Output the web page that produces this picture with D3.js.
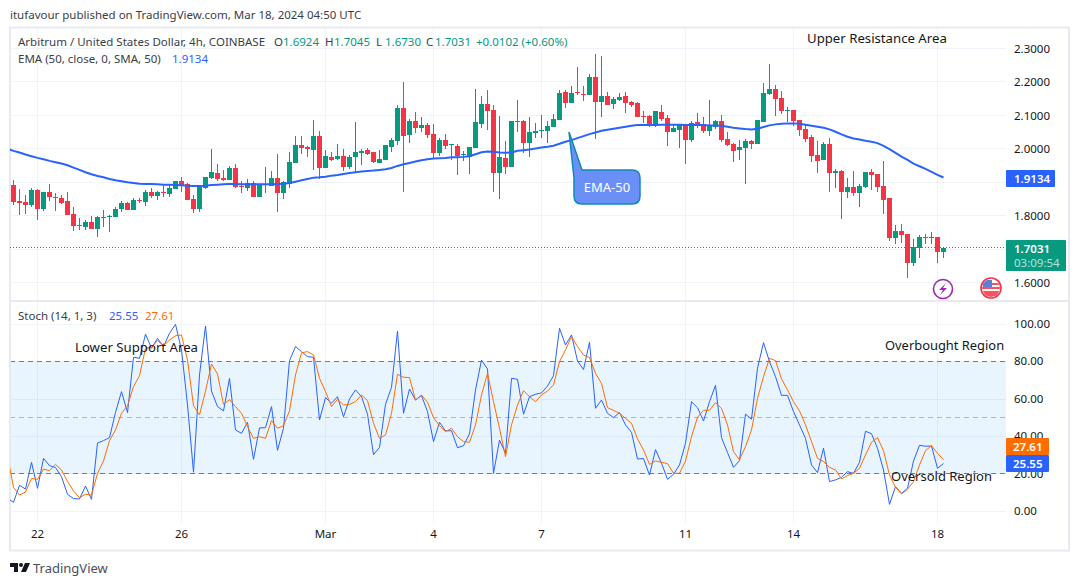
<!DOCTYPE html>
<html>
<head>
<meta charset="utf-8">
<script src="https://cdn.jsdelivr.net/npm/d3@7"></script>
<style>
  html, body { margin: 0; padding: 0; background: #fff; }
  text { font-family: "Noto Sans", sans-serif; }
</style>
</head>
<body>
<div id="chart"></div>
<script>
// OHLC, one entry per 4h bar
const opens = [
  1.891,1.843,1.840,1.831,1.876,1.819,1.870,1.855,1.852,1.843,
  1.804,1.771,1.765,1.780,1.759,1.793,1.796,1.795,1.819,1.837,
  1.816,1.847,1.840,1.870,1.858,1.870,1.864,1.879,1.903,1.894,
  1.849,1.819,1.882,1.912,1.927,1.912,1.906,1.942,1.888,1.882,
  1.897,1.855,1.891,1.888,1.912,1.867,1.894,1.957,2.011,2.004,
  1.996,2.038,1.942,1.975,1.969,1.978,1.945,1.975,1.987,1.996,
  1.990,1.957,1.966,2.005,2.023,2.121,2.040,2.082,2.061,2.070,
  2.043,1.987,2.026,2.009,2.008,1.981,1.975,2.002,2.073,2.133,
  2.115,1.927,1.972,1.945,2.082,2.082,2.017,2.046,2.053,2.052,
  2.064,2.085,2.169,2.136,2.169,2.163,2.160,2.214,2.139,2.157,
  2.133,2.145,2.157,2.139,2.136,2.096,2.097,2.070,2.109,2.091,
  2.049,2.055,2.070,2.026,2.079,2.073,2.052,2.064,2.082,2.029,
  2.014,1.996,2.002,2.023,2.014,2.079,2.163,2.178,2.151,2.113,
  2.115,2.085,2.058,2.034,1.981,1.966,2.014,1.927,1.933,1.870,
  1.885,1.867,1.885,1.930,1.924,1.888,1.852,1.733,1.754,1.745,
  1.658,1.703,1.736,1.734,1.736,1.6924
];
const highs = [
  1.906,1.879,1.861,1.882,1.879,1.871,1.894,1.867,1.861,1.870,
  1.825,1.792,1.786,1.798,1.798,1.816,1.801,1.825,1.843,1.840,
  1.852,1.852,1.876,1.882,1.873,1.891,1.891,1.903,1.915,1.897,
  1.861,1.888,1.915,1.998,1.954,1.936,1.948,1.953,1.903,1.909,
  1.903,1.894,1.945,1.933,1.984,1.903,1.990,2.038,2.038,2.008,
  2.085,2.053,1.996,1.990,2.014,1.999,1.981,2.079,1.999,2.002,
  1.990,1.996,2.011,2.031,2.130,2.199,2.088,2.109,2.094,2.076,
  2.073,2.031,2.043,2.014,2.014,1.993,2.005,2.178,2.157,2.175,
  2.130,2.097,2.023,2.082,2.145,2.085,2.094,2.076,2.100,2.082,
  2.103,2.175,2.175,2.187,2.243,2.187,2.222,2.282,2.276,2.169,
  2.154,2.166,2.169,2.142,2.139,2.112,2.100,2.112,2.130,2.100,
  2.070,2.073,2.073,2.082,2.106,2.094,2.145,2.085,2.100,2.049,
  2.017,2.026,2.029,2.026,2.085,2.196,2.252,2.190,2.172,2.124,
  2.115,2.085,2.073,2.040,2.023,2.020,2.031,1.939,1.936,1.912,
  1.933,1.894,1.930,1.939,1.924,1.963,1.852,1.772,1.775,1.745,
  1.730,1.742,1.745,1.751,1.736,1.7045
];
const lows = [
  1.831,1.801,1.804,1.824,1.786,1.813,1.843,1.813,1.834,1.801,
  1.754,1.757,1.757,1.759,1.736,1.765,1.750,1.795,1.810,1.816,
  1.816,1.837,1.828,1.852,1.846,1.855,1.855,1.879,1.870,1.846,
  1.807,1.810,1.879,1.909,1.903,1.903,1.906,1.882,1.867,1.873,
  1.855,1.855,1.866,1.888,1.810,1.849,1.882,1.957,1.984,1.975,
  1.936,1.909,1.942,1.963,1.966,1.933,1.939,1.930,1.951,1.981,
  1.957,1.957,1.966,1.990,2.011,1.870,2.017,2.046,2.049,2.031,
  1.969,1.978,1.999,1.966,1.921,1.963,1.924,2.002,2.061,2.055,
  1.870,1.849,1.924,1.945,2.049,1.987,1.975,2.031,2.031,2.017,
  2.064,2.085,2.121,2.136,2.160,2.142,2.160,2.028,2.094,2.130,
  2.118,2.142,2.106,2.124,2.094,2.076,2.064,2.064,2.082,2.008,
  2.049,2.002,1.954,2.020,2.061,2.046,2.037,2.058,2.020,2.008,
  1.960,1.966,1.894,1.999,2.014,2.079,2.160,2.097,2.103,2.079,
  2.067,2.037,2.020,1.960,1.927,1.966,1.870,1.882,1.790,1.852,
  1.858,1.825,1.882,1.876,1.870,1.805,1.724,1.715,1.718,1.613,
  1.649,1.673,1.715,1.715,1.658,1.6730
];
const closes = [
  1.841,1.837,1.832,1.876,1.819,1.870,1.855,1.853,1.837,1.801,
  1.768,1.768,1.780,1.759,1.795,1.795,1.798,1.819,1.837,1.816,
  1.846,1.845,1.870,1.858,1.870,1.868,1.882,1.903,1.891,1.846,
  1.819,1.885,1.915,1.930,1.908,1.906,1.942,1.885,1.885,1.897,
  1.855,1.894,1.893,1.912,1.867,1.900,1.960,2.011,2.002,1.998,
  2.038,1.942,1.978,1.966,1.978,1.945,1.975,1.990,1.993,1.984,
  1.960,1.969,2.011,2.026,2.121,2.037,2.082,2.061,2.070,2.040,
  1.987,2.026,2.008,2.012,1.978,1.984,2.005,2.079,2.133,2.112,
  1.927,1.975,1.945,2.082,2.080,2.017,2.049,2.052,2.055,2.067,
  2.088,2.166,2.136,2.166,2.166,2.161,2.214,2.139,2.157,2.130,
  2.148,2.154,2.136,2.130,2.094,2.093,2.073,2.112,2.088,2.049,
  2.061,2.070,2.026,2.076,2.067,2.052,2.067,2.082,2.026,2.011,
  1.993,2.005,2.023,2.014,2.085,2.166,2.178,2.148,2.112,2.115,
  2.082,2.055,2.029,1.978,1.963,2.014,1.927,1.933,1.870,1.885,
  1.867,1.888,1.930,1.921,1.885,1.846,1.733,1.754,1.742,1.658,
  1.706,1.736,1.734,1.736,1.691,1.7031
];
// EMA and stochastic start one bar before the first candle (it is clipped by the pane)
const emaValues = [
  1.999,1.993,1.988,1.982,1.977,1.972,1.968,1.963,1.959,1.955,1.950,
  1.943,1.936,1.929,1.923,1.918,1.914,1.909,1.905,1.902,1.899,
  1.897,1.895,1.894,1.894,1.893,1.892,1.892,1.891,1.890,1.889,
  1.888,1.888,1.889,1.891,1.892,1.893,1.894,1.894,1.893,1.893,
  1.893,1.893,1.893,1.893,1.894,1.895,1.897,1.901,1.905,1.909,
  1.913,1.914,1.916,1.919,1.921,1.924,1.927,1.929,1.931,1.933,
  1.934,1.936,1.938,1.942,1.948,1.953,1.957,1.961,1.965,1.968,
  1.970,1.971,1.972,1.974,1.974,1.975,1.977,1.983,1.989,1.991,
  1.990,1.988,1.987,1.988,1.993,1.995,1.997,2.000,2.003,2.005,
  2.008,2.014,2.020,2.025,2.031,2.037,2.043,2.048,2.053,2.056,
  2.059,2.062,2.065,2.068,2.070,2.070,2.070,2.070,2.071,2.071,
  2.071,2.071,2.070,2.070,2.070,2.070,2.069,2.069,2.068,2.065,
  2.062,2.060,2.058,2.057,2.059,2.064,2.069,2.072,2.074,2.075,
  2.075,2.074,2.071,2.068,2.065,2.062,2.057,2.050,2.042,2.035,
  2.030,2.027,2.023,2.020,2.016,2.008,1.998,1.987,1.976,1.966,
  1.955,1.947,1.939,1.930,1.921,1.9134
];
const stochK = [
  7.0,4.8,13.9,11.9,26.2,12.3,28.3,24.4,23.4,18.5,9.1,
  6.8,6.6,13.5,6.4,36.5,37.8,39.4,52.9,64.0,52.8,
  82.4,81.8,94.7,87.2,92.5,88.1,95.2,100,86.3,56.9,
  20.9,72.9,99.1,64.3,56.0,53.7,71.1,43.5,41.7,47.6,
  27.8,44.6,44.7,56.0,32.6,44.4,80.6,88.1,85.4,82.7,
  82.4,48.8,60.8,57.8,61.3,50.6,60.1,64.9,61.3,51.9,
  30.3,34.2,57.2,66.3,96.4,52.4,65.4,59.5,61.9,53.3,
  37.3,47.6,43.0,43.1,34.0,35.1,41.4,64.9,80.9,76.1,
  20.3,38.1,31.0,71.1,70.6,51.9,61.3,62.6,63.3,67.0,
  72.5,97.9,88.9,94.3,80.4,75.8,90.4,55.1,59.5,52.4,
  50.1,52.8,46.2,42.2,28.0,28.2,19.4,33.0,25.7,17.1,
  19.8,24.8,36.4,58.6,55.4,48.3,58.6,67.4,39.4,31.4,
  23.5,27.1,52.0,49.2,76.5,90.2,80.0,72.0,62.0,62.0,
  53.3,46.2,39.0,24.8,20.7,33.7,15.9,16.8,18.2,21.2,
  20.3,26.2,42.8,41.5,33.7,22.1,3.7,13.2,9.6,12.3,
  26.9,35.3,34.8,34.9,23.0,25.55
];
const stochD = [
  29.6,12.8,8.7,10.3,17.6,17.1,22.6,21.7,25.1,22.1,15.9,
  10.9,7.3,9.1,8.7,20.3,26.9,37.8,43.5,52.4,56.5,
  66.7,72.5,87.2,87.5,91.3,88.6,91.6,93.9,94.3,80.9,
  56.5,51.5,64.3,78.8,73.4,57.2,59.7,56.0,52.4,45.3,
  39.0,39.9,39.0,48.5,44.4,45.8,53.7,72.9,84.8,85.4,
  83.6,71.1,64.0,56.0,59.9,56.9,57.2,58.6,62.2,59.2,
  47.1,39.0,40.8,52.4,73.3,71.7,71.5,59.5,62.2,58.3,
  50.1,45.8,42.6,44.4,39.9,37.3,36.9,46.2,62.2,73.8,
  58.6,44.4,29.2,46.2,56.9,64.5,61.3,58.6,62.2,64.3,
  67.6,80.0,86.3,93.4,88.1,83.6,82.2,73.8,68.4,55.4,
  54.0,52.4,49.7,47.1,38.7,32.8,25.1,26.9,26.2,25.5,
  20.3,20.3,26.9,39.9,50.3,54.0,54.0,58.1,55.1,46.2,
  31.9,27.5,34.6,43.5,60.4,72.0,81.8,80.6,70.8,64.9,
  58.6,53.7,46.2,37.3,28.3,26.6,23.5,22.1,17.3,19.1,
  20.3,23.0,30.1,36.9,39.4,32.4,19.4,12.8,9.3,11.8,
  15.9,24.8,32.4,35.1,31.0,27.61
];
const priceTicks = [1.6, 1.8, 2.0, 2.1, 2.2, 2.3];
const priceGrid = [1.6, 1.7, 1.8, 1.9, 2.0, 2.1, 2.2, 2.3];
const stochTicks = [0, 20, 40, 60, 80, 100];
const timeTickBars = [4, 28, 52, 70, 88, 112, 130, 154];
const timeTickLabels = ['22', '26', 'Mar', '4', '7', '11', '14', '18'];

const width = 1080, height = 586;
const green = '#089981', red = '#f23645', blue = '#2962ff', orange = '#ff6d00';
const ink = '#131722', legendInk = '#3a3e4a', gridColor = '#f0f3fa', frameColor = '#e8eaf1';
const smallFont = 11.5;
const last = opens.length - 1;

const plot = { left: 10, right: 1006, top: 28, bottom: 523, split: 301 };

const x = d3.scaleLinear().domain([0, last]).range([13.5, 943.5]);
const yPrice = d3.scaleLinear().domain([1.6, 2.3]).range([282.5, 48]);
const yStoch = d3.scaleLinear().domain([0, 100]).range([511.3, 324.3]);

const svg = d3.select('#chart').append('svg')
  .attr('width', width)
  .attr('height', height)
  .style('display', 'block');

svg.append('clipPath').attr('id', 'price-clip').append('rect')
  .attr('x', plot.left).attr('y', plot.top)
  .attr('width', plot.right - plot.left).attr('height', plot.split - plot.top);
svg.append('clipPath').attr('id', 'stoch-clip').append('rect')
  .attr('x', plot.left).attr('y', plot.split)
  .attr('width', plot.right - plot.left).attr('height', plot.bottom - plot.split);

// grid
const grid = svg.append('g').attr('stroke', gridColor).attr('shape-rendering', 'crispEdges');
grid.selectAll('.v').data(timeTickBars).join('line').attr('class', 'v')
  .attr('x1', d => x(d)).attr('x2', d => x(d))
  .attr('y1', plot.top).attr('y2', plot.bottom);
grid.selectAll('.hp').data(priceGrid).join('line').attr('class', 'hp')
  .attr('x1', plot.left).attr('x2', plot.right)
  .attr('y1', d => yPrice(d)).attr('y2', d => yPrice(d));

// stochastic band + levels
svg.append('rect')
  .attr('x', plot.left).attr('width', plot.right - plot.left)
  .attr('y', yStoch(80)).attr('height', yStoch(20) - yStoch(80))
  .attr('fill', 'rgba(33,150,243,0.1)');
grid.selectAll('.hs').data(stochTicks).join('line').attr('class', 'hs')
  .attr('x1', plot.left).attr('x2', plot.right)
  .attr('y1', d => yStoch(d)).attr('y2', d => yStoch(d));
svg.append('g').attr('fill', 'none').selectAll('line')
  .data([80, 50, 20]).join('line')
  .attr('x1', plot.left).attr('x2', plot.right)
  .attr('y1', d => yStoch(d)).attr('y2', d => yStoch(d))
  .attr('stroke', d => d === 50 ? '#b2b5be' : '#787b86')
  .attr('stroke-dasharray', '5,4')
  .attr('shape-rendering', 'crispEdges');

// frame
svg.append('rect')
  .attr('x', 10).attr('y', 27.5).attr('width', 1059).attr('height', 523)
  .attr('fill', 'none').attr('stroke', frameColor).attr('stroke-width', 2);
svg.append('line')
  .attr('x1', 10).attr('x2', 1069).attr('y1', plot.split).attr('y2', plot.split)
  .attr('stroke', frameColor).attr('stroke-width', 2);

// last price line
svg.append('line')
  .attr('x1', plot.left).attr('x2', plot.right)
  .attr('y1', yPrice(closes[last])).attr('y2', yPrice(closes[last]))
  .attr('stroke', '#089981').attr('stroke-dasharray', '1,2')
  .attr('shape-rendering', 'crispEdges');

// candles
const candles = svg.append('g').attr('clip-path', 'url(#price-clip)')
  .selectAll('g').data(opens).join('g')
  .attr('fill', (d, i) => closes[i] >= d ? green : red)
  .attr('stroke', (d, i) => closes[i] >= d ? green : red)
  .attr('shape-rendering', 'crispEdges');
candles.append('line')
  .attr('x1', (d, i) => x(i)).attr('x2', (d, i) => x(i))
  .attr('y1', (d, i) => yPrice(highs[i])).attr('y2', (d, i) => yPrice(lows[i]));
candles.append('rect')
  .attr('x', (d, i) => x(i) - 2.5)
  .attr('width', 5)
  .attr('y', (d, i) => yPrice(Math.max(d, closes[i])))
  .attr('height', (d, i) => Math.max(1, Math.abs(yPrice(d) - yPrice(closes[i]))))
  .attr('stroke', 'none');

// lines
const indexLine = yScale => d3.line().x((d, i) => x(i - 1)).y(d => yScale(d));
svg.append('path').datum(emaValues)
  .attr('clip-path', 'url(#price-clip)')
  .attr('fill', 'none').attr('stroke', blue).attr('stroke-width', 2)
  .attr('d', indexLine(yPrice));
svg.append('path').datum(stochK)
  .attr('clip-path', 'url(#stoch-clip)')
  .attr('fill', 'none').attr('stroke', blue).attr('stroke-width', 1)
  .attr('d', indexLine(yStoch));
svg.append('path').datum(stochD)
  .attr('clip-path', 'url(#stoch-clip)')
  .attr('fill', 'none').attr('stroke', orange).attr('stroke-width', 1)
  .attr('d', indexLine(yStoch));

// axes
const styleAxis = g => {
  g.select('.domain').remove();
  g.selectAll('text').attr('fill', ink).style('font-size', smallFont + 'px')
    .style('font-family', '"Noto Sans", sans-serif');
};
svg.append('g').attr('transform', `translate(${plot.right},0.5)`)
  .call(d3.axisRight(yPrice).tickValues(priceTicks).tickSize(0).tickPadding(8)
    .tickFormat(d3.format('.4f')))
  .call(styleAxis);
svg.append('g').attr('transform', `translate(${plot.right},-0.5)`)
  .call(d3.axisRight(yStoch).tickValues(stochTicks).tickSize(0).tickPadding(8)
    .tickFormat(d3.format('.2f')))
  .call(styleAxis);
svg.append('g').attr('transform', `translate(-0.5,${plot.bottom + 7})`)
  .call(d3.axisBottom(x).tickValues(timeTickBars).tickSize(0).tickPadding(0)
    .tickFormat((d, i) => timeTickLabels[i]))
  .call(styleAxis);

// text helper, used for legends and notes
function label(px, py, str, color, size, extra) {
  const t = svg.append('text').attr('x', px).attr('y', py)
    .attr('fill', color || ink).style('font-size', (size || smallFont) + 'px').text(str);
  if (extra) extra(t);
  return t;
}

label(10, 19, 'itufavour published on TradingView.com, Mar 18, 2024 04:50 UTC', legendInk);

// legends
label(18, 46, 'Arbitrum / United States Dollar, 4h, COINBASE', legendInk);
const fmt4 = d3.format('.4f');
[['O', opens[last], 274], ['H', highs[last], 325], ['L', lows[last], 376], ['C', closes[last], 426]]
  .forEach(([name, val, px]) => {
    label(px, 46, name, legendInk);
    label(px + 9, 46, fmt4(val), green);
  });
label(476, 46, '+0.0102 (+0.60%)', green);
label(18, 63, 'EMA (50, close, 0, SMA, 50)', legendInk);
label(172, 63, fmt4(emaValues[emaValues.length - 1]), blue);
label(18, 320, 'Stoch (14, 1, 3)', legendInk);
label(109, 320, stochK[stochK.length - 1].toFixed(2), blue);
label(145, 320, stochD[stochD.length - 1].toFixed(2), orange);

// notes
label(807, 43, 'Upper Resistance Area', ink, 13.2);
label(75, 352, 'Lower Support Area', ink, 13.2);
label(885, 350, 'Overbought Region', ink, 12.9);
label(891, 481, 'Oversold Region', ink, 13);

// axis badges
function badge(yTop, h, w, fill) {
  svg.append('rect').attr('x', plot.right).attr('y', yTop)
    .attr('width', w).attr('height', h).attr('fill', fill).attr('rx', 1);
}
const bold = t => t.style('font-weight', 600);
badge(170, 17, 49, blue);
label(1014, 183, fmt4(emaValues[emaValues.length - 1]), '#fff', smallFont, bold);
badge(240, 31, 60, green);
label(1014, 252.5, fmt4(closes[last]), '#fff', smallFont, bold);
label(1014, 267, '03:09:54', '#b5e3d8', smallFont);
badge(438, 17, 43, orange);
label(1013, 451, stochD[stochD.length - 1].toFixed(2), '#fff', smallFont, bold);
badge(455, 17, 43, blue);
label(1013, 468, stochK[stochK.length - 1].toFixed(2), '#fff', smallFont, bold);

// EMA-50 callout
svg.append('path')
  .attr('d', 'M569,132 L582,170 H632 Q640,170 640,178 V196 Q640,204 632,204 H582 Q574,204 574,196 V178 Z')
  .attr('fill', '#6a90f8').attr('stroke', '#0e8ab8').attr('stroke-width', 1.5);
label(607, 192, 'EMA-50', '#fff', 13, t => t.attr('text-anchor', 'middle'));

// bolt icon
svg.append('circle').attr('cx', 943).attr('cy', 289).attr('r', 9.5)
  .attr('fill', '#fff').attr('stroke', '#9c27b0').attr('stroke-width', 1.6);
svg.append('path').attr('d', 'M946,283 L939,290 L943,290 L940,295 L947,288 L943,288 Z')
  .attr('fill', '#9c27b0');

// flag icon
svg.append('clipPath').attr('id', 'flag-clip').append('circle')
  .attr('cx', 991).attr('cy', 288).attr('r', 9);
const flag = svg.append('g').attr('clip-path', 'url(#flag-clip)');
flag.append('rect').attr('x', 982).attr('y', 279).attr('width', 18).attr('height', 18).attr('fill', '#fff');
flag.append('rect').attr('x', 982).attr('y', 283).attr('width', 18).attr('height', 2).attr('fill', '#f7525f');
flag.append('rect').attr('x', 982).attr('y', 287).attr('width', 18).attr('height', 2).attr('fill', '#f7525f');
flag.append('rect').attr('x', 982).attr('y', 291).attr('width', 18).attr('height', 6).attr('fill', '#f7525f');
flag.append('rect').attr('x', 983).attr('y', 280).attr('width', 9).attr('height', 7).attr('fill', '#5b7fd6');
svg.append('circle').attr('cx', 991).attr('cy', 288).attr('r', 10)
  .attr('fill', 'none').attr('stroke', '#f23645').attr('stroke-width', 1.6);

// footer logo
svg.append('path')
  .attr('d', 'M10,563 H18 V572 H14 V567 H10 Z M25,563 H30 L26,572 H21 Z')
  .attr('fill', '#131722');
svg.append('circle').attr('cx', 21).attr('cy', 565).attr('r', 2).attr('fill', '#131722');
label(33, 573, 'TradingView', '#4a4e5a', 13);
</script>
</body>
</html>
